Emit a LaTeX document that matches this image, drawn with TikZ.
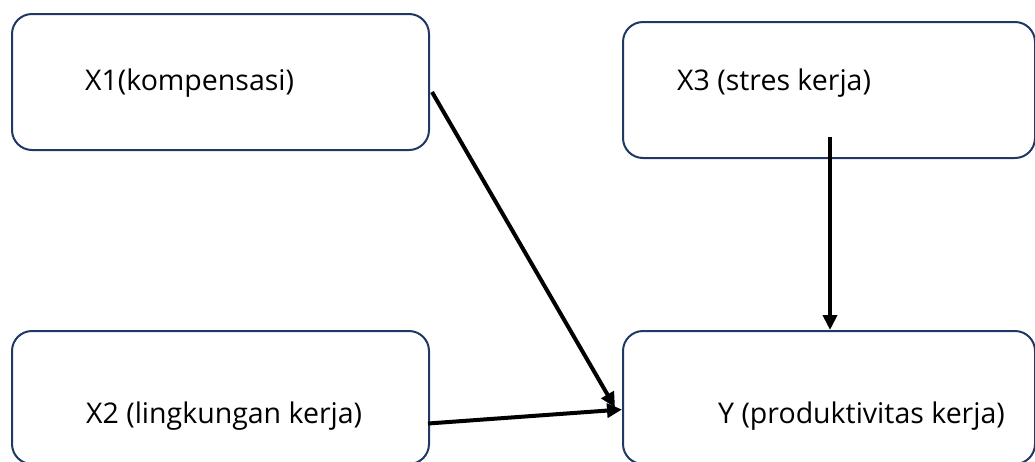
\documentclass[tikz,border=0pt]{standalone}
\usepackage{fontspec}
\setmainfont{Open Sans}
\usepackage{tikz}
\usetikzlibrary{arrows.meta,positioning}
\definecolor{boxblue}{RGB}{31,56,100}
\tikzstyle{box}  =[draw=boxblue, line width=2pt, rounded corners=20pt,
                   minimum width=417pt, minimum height=136pt,
                   inner sep=0pt, anchor=north west]
\tikzstyle{txt}  =[inner sep=0pt, anchor=base west,
                   font=\fontsize{28.5}{34}\selectfont]
\tikzstyle{edge} =[line width=4pt, >={Triangle[length=15pt,width=14pt]}]

\begin{document}
\begin{tikzpicture}[x=1pt, y=-1pt]
    \useasboundingbox (0,0) rectangle (1035,461);
    \begin{scope}
        \node (bx1) [box] at (11,13) {};
        \node (bx3) [box, minimum width=412pt] at (622,21) {};
        \node (bx2) [box, minimum height=133pt] at (11,330) {};
        \node (by) [box, minimum width=412pt, minimum height=133pt] at (622,330) {};
        \node (t1) [txt] at (85,90) {X1(kompensasi)};
        \node (t3) [txt] at (677,90) {X3 (stres kerja)};
        \node (t2) [txt] at (86,423) {X2 (lingkungan kerja)};
        \node (ty) [txt] at (718,423) {Y (produktivitas kerja)};
        \draw[edge, ->] ([xshift=2pt, yshift=-10pt]bx1.east) to ([xshift=-7pt, yshift=-10pt]by.west);
        \draw[edge, ->] ([xshift=-2pt, yshift=-26pt]bx2.east) to ([yshift=-12pt]by.west);
        \draw[edge, ->] ([xshift=1pt, yshift=22pt]bx3.south) to ([xshift=1pt]by.north);
    \end{scope}
\end{tikzpicture}
\end{document}
